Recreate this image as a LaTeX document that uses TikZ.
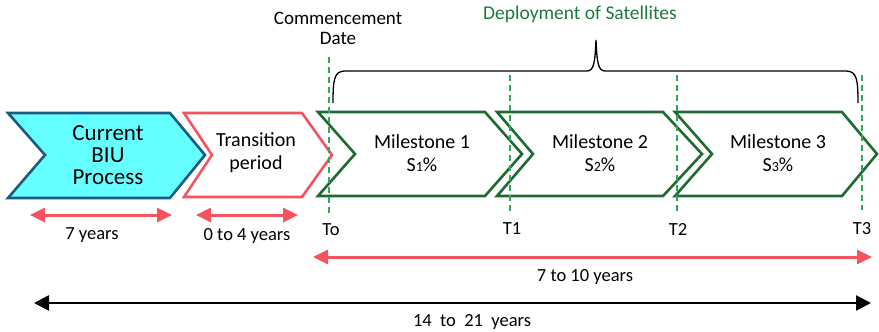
\documentclass[tikz,border=0pt]{standalone}
\usepackage{fontspec}
\setmainfont{Carlito}
\usetikzlibrary{arrows.meta}
\definecolor{cyanfill}{HTML}{66FFFF}
\definecolor{blueedge}{HTML}{1C5B7C}
\definecolor{redc}{HTML}{F5535E}
\definecolor{greenedge}{HTML}{1E6B32}
\definecolor{dashgreen}{HTML}{2EAA55}
\definecolor{greentext}{HTML}{1E7A3A}
\newcommand{\fs}[1]{\fontsize{#1}{#1}\selectfont}
\newcommand{\pct}[1]{S{\fontsize{14}{14}\selectfont #1}\%}
\tikzset{
  chev/.style={line width=2.6pt, line join=miter},
  curbox/.style={chev, draw=blueedge, fill=cyanfill},
  transbox/.style={chev, draw=redc, fill=white},
  milebox/.style={chev, draw=greenedge, fill=white},
  tline/.style={draw=dashgreen, line width=1.3pt, dash pattern=on 6pt off 4pt},
  redarrow/.style={draw=redc, line width=3pt, {Triangle[length=15pt,width=14pt]}-{Triangle[length=15pt,width=14pt]}},
  blackarrow/.style={draw=black, line width=2.6pt, {Triangle[length=15pt,width=15pt]}-{Triangle[length=15pt,width=15pt]}},
  lbl/.style={inner sep=0pt, font=\fs{18.5}, align=center},
  boxtxt/.style={inner sep=0pt, font=\fs{20}, align=center}
}
\begin{document}
\begin{tikzpicture}[x=1pt,y=-1pt]
\useasboundingbox (0,0) rectangle (879,332);
% chevrons
\draw[curbox] (8,113) -- (170,113) -- (205,155) -- (170,198) -- (8,198) -- (45,155) -- cycle;
\draw[transbox] (184,113) -- (302,113) -- (332,155) -- (302,197) -- (184,197) -- (212,155) -- cycle;
\draw[milebox] (318,112) -- (485,112) -- (522,154) -- (485,196) -- (318,196) -- (355,154) -- cycle;
\draw[milebox] (497,112) -- (663,112) -- (702,154) -- (663,196) -- (497,196) -- (533,154) -- cycle;
\draw[milebox] (675,112) -- (842,112) -- (877,154) -- (842,196) -- (675,196) -- (712,154) -- cycle;
% box texts
\node[inner sep=0pt, font=\fs{23}, align=center] (cur) at (108,155) {Current\\[-1pt]BIU\\[-1pt]Process};
\node[boxtxt] (trans) at (256,153) {Transition\\[3pt]period};
\node[boxtxt] (m1) at (422,153) {Milestone 1\\[3pt]\pct{1}};
\node[boxtxt] (m2) at (600,153) {Milestone 2\\[3pt]\pct{2}};
\node[boxtxt] (m3) at (778,153) {Milestone 3\\[3pt]\pct{3}};
% dashed time lines
\coordinate (t0a) at (329,57);  \coordinate (t0b) at (329,216);
\coordinate (t1a) at (510,75);  \coordinate (t1b) at (510,212);
\coordinate (t2a) at (677,75);  \coordinate (t2b) at (677,212);
\coordinate (t3a) at (862,75);  \coordinate (t3b) at (862,210);
\draw[tline] (t0a) -- (t0b);
\draw[tline] (t1a) -- (t1b);
\draw[tline] (t2a) -- (t2b);
\draw[tline] (t3a) -- (t3b);
\node[lbl] (lt0) at (331,230) {To};
\node[lbl] (lt1) at (512,229) {T1};
\node[lbl] (lt2) at (678,229) {T2};
\node[lbl] (lt3) at (862,229) {T3};
% brace
\coordinate (bl) at (333,103);
\coordinate (bm) at (596,40);
\coordinate (br) at (858,103);
\draw[line width=1.3pt] (bl) .. controls (333,80) and (334,71) .. (345,71) -- (587,71)
  .. controls (594,71) and (595,62) .. (bm) .. controls (597,62) and (598,71) .. (605,71)
  -- (846,71) .. controls (857,71) and (858,80) .. (br);
% top labels
\node[lbl, font=\fs{19}] (comm) at (338,28) {Commencement\\[1pt]Date};
\node[lbl, font=\fs{19.5}, text=greentext] (dep) at (580,14) {Deployment of Satellites};
% dimension arrows
\coordinate (r1a) at (30,215);  \coordinate (r1b) at (172,215);
\coordinate (r2a) at (196,215); \coordinate (r2b) at (298,215);
\coordinate (r3a) at (313,257); \coordinate (r3b) at (872,257);
\coordinate (ba) at (34,303);   \coordinate (bb) at (871,303);
\draw[redarrow] (r1a) -- (r1b);
\draw[redarrow] (r2a) -- (r2b);
\draw[redarrow] (r3a) -- (r3b);
\draw[blackarrow] (ba) -- (bb);
\node[lbl] (y1) at (92,235) {7 years};
\node[lbl] (y2) at (247,236) {0 to 4 years};
\node[lbl] (y3) at (585,277) {7 to 10 years};
\node[lbl] (y4) at (472,322) {14\ \ to\ \ 21\ \ years};
\end{tikzpicture}
\end{document}
